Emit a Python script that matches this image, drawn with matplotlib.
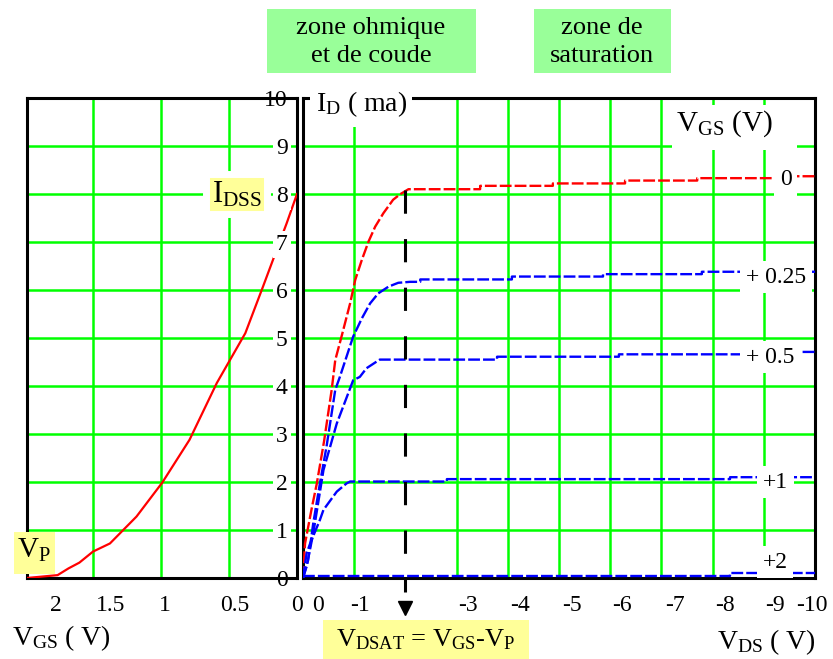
import matplotlib
matplotlib.use('Agg')
import matplotlib.pyplot as plt
from matplotlib.patches import Rectangle

plt.rcParams['font.family'] = 'Liberation Serif'
plt.rcParams['mathtext.fontset'] = 'custom'
plt.rcParams['mathtext.rm'] = 'Liberation Serif'
plt.rcParams['mathtext.it'] = 'Liberation Serif:italic'

# transfer characteristic ID(VGS), left panel
vgs_tr = [1.985, 1.76, 1.68, 1.60, 1.50, 1.375, 1.18, 0.99, 0.79, 0.59, 0.38, 0.25, 0.15, 0.076, 0.0]
id_tr = [0.0, 0.06, 0.20, 0.32, 0.55, 0.72, 1.28, 1.99, 2.88, 4.06, 5.10, 6.07, 6.83, 7.39, 8.0]

# output characteristics ID(VDS), right panel
vds_0 = [0, -0.04, -0.17, -0.27, -0.41, -0.56, -0.63, -0.76, -0.92, -1.02, -1.15, -1.28, -1.41, -1.57,
         -1.76, -1.89, -2.06, -3.46, -3.46, -4.88, -4.88, -6.29, -6.29, -7.70, -7.70, -9.3, -9.3, -10]
id_0 = [0, 0.72, 1.45, 1.97, 2.84, 3.92, 4.54, 5.06, 5.72, 6.21, 6.63, 7.01, 7.32, 7.60,
        7.88, 7.99, 8.10, 8.10, 8.17, 8.17, 8.22, 8.22, 8.28, 8.28, 8.33, 8.33, 8.37, 8.37]

vds_025 = [0, -0.10, -0.20, -0.33, -0.46, -0.63, -0.72, -0.85, -0.98, -1.15, -1.31, -1.47, -1.67, -1.86,
           -2.09, -2.29, -2.29, -4.08, -4.08, -5.86, -5.86, -7.79, -7.79, -10]
id_025 = [0, 0.37, 1.14, 1.97, 2.74, 3.92, 4.19, 4.61, 5.03, 5.41, 5.72, 5.93, 6.07, 6.15,
          6.17, 6.17, 6.22, 6.22, 6.28, 6.28, 6.33, 6.33, 6.38, 6.38]

vds_05 = [0, -0.07, -0.20, -0.40, -0.66, -0.98, -1.11, -1.24, -1.44, -1.50, -3.79, -3.79, -6.17, -6.17,
          -9.6, -9.6, -10]
id_05 = [0, 0.24, 0.93, 2.25, 3.22, 4.12, 4.19, 4.37, 4.51, 4.55, 4.55, 4.61, 4.61, 4.66,
         4.66, 4.71, 4.71]

vds_1 = [0, -0.07, -0.14, -0.33, -0.40, -0.66, -0.85, -0.92, -2.81, -2.81, -8.34, -8.34, -10]
id_1 = [0, 0.51, 0.72, 1.21, 1.42, 1.80, 1.97, 2.01, 2.01, 2.06, 2.06, 2.10, 2.10]

vds_2 = [0, -8.34, -8.34, -10]
id_2 = [0.04, 0.04, 0.11, 0.11]

curve_labels = ['0', '+ 0.25', '+ 0.5', '+1', '+2']
curve_colors = ['red', 'blue', 'blue', 'blue', 'blue']

vgs_ticklabels = ['2', '1.5', '1', '0.5', '0']
vds_ticklabels = ['0', '-1', '-3', '-4', '-5', '-6', '-7', '-8', '-9', '-10']
id_ticklabels = [str(i) for i in range(11)]

vdsat = -2.0
idss = 8.0

W, H = 833, 659
fig = plt.figure(figsize=(8.33, 6.59), dpi=100)


def px_box(x0, y0, x1, y1):
    return [x0 / W, 1 - y1 / H, (x1 - x0) / W, (y1 - y0) / H]


def fig_rect(x0, y0, x1, y1, fc, ec='none', lw=0):
    r = Rectangle((x0 / W, 1 - y1 / H), (x1 - x0) / W, (y1 - y0) / H,
                  transform=fig.transFigure, facecolor=fc, edgecolor=ec, linewidth=lw)
    fig.add_artist(r)


def fig_text(x, y, s, size, ha='center'):
    fig.text(x / W, 1 - y / H, s, fontsize=size, ha=ha, va='center', linespacing=1.3)


GREEN = '#00ff00'
grid_kw = dict(color=GREEN, linewidth=1.8)

# ---- left panel
ax_l = fig.add_axes(px_box(27, 98, 297, 578))
ax_l.plot(vgs_tr, id_tr, color='red', lw=1.6, zorder=3)
ax_l.set_xlim(1.985, 0)
ax_l.set_ylim(0, 10)
ax_l.set_xticks([1.5, 1.0, 0.5], minor=True)
ax_l.set_xticks([1.77, 1.37, 0.97, 0.46, 0.0], vgs_ticklabels)
ax_l.set_yticks(range(11), [])
ax_l.xaxis.grid(True, which='minor', **grid_kw)
ax_l.yaxis.grid(True, which='major', **grid_kw)
ax_l.tick_params(which='both', length=0)
ax_l.tick_params(axis='x', labelsize=17, pad=12)
for sp in ax_l.spines.values():
    sp.set_linewidth(2.2)

# ---- right panel
ax_r = fig.add_axes(px_box(303, 98, 815, 578))
ax_r.set_xlim(0, -10)
ax_r.set_ylim(0, 10)
ax_r.set_xticks([-1, -3, -4, -5, -6, -7, -8, -9], minor=True)
ax_r.set_xticks([-0.29, -1.11, -3.22, -4.24, -5.25, -6.23, -7.27, -8.24, -9.22, -9.94], vds_ticklabels)
ax_r.set_yticks(range(11), id_ticklabels)
ax_r.xaxis.grid(True, which='minor', **grid_kw)
ax_r.yaxis.grid(True, which='major', **grid_kw)
ax_r.tick_params(which='both', length=0)
ax_r.tick_params(axis='x', labelsize=17, pad=12)
ax_r.tick_params(axis='y', labelsize=17, pad=11)
for lbl in ax_r.get_yticklabels()[1:10]:
    lbl.set_bbox(dict(facecolor='white', edgecolor='none', pad=2))
for sp in ax_r.spines.values():
    sp.set_linewidth(2.2)

curves = [(vds_0, id_0), (vds_025, id_025), (vds_05, id_05), (vds_1, id_1), (vds_2, id_2)]
for (vx, iy), c in zip(curves, curve_colors):
    ax_r.plot(vx, iy, color=c, lw=1.7, linestyle=(0, (5, 1.3)), zorder=3)

# VDSAT marker line with arrow
ax_r.plot([vdsat, vdsat], [idss + 0.08, -0.3], color='black', lw=2.2,
          linestyle=(0, (7.6, 8.3)), clip_on=False, zorder=4)
ax_r.plot([vdsat], [-0.62], marker='v', color='black', markersize=10, clip_on=False, zorder=4)

# curve labels
label_pos = [(-9.43, 8.30, 'center'), (-8.65, 6.27, 'left'), (-8.65, 4.60, 'left'),
             (-8.98, 2.0, 'left'), (-8.98, 0.33, 'left')]
for (x, y, ha), s in zip(label_pos, curve_labels):
    ax_r.text(x, y, s, fontsize=17, ha=ha, va='center', zorder=5, clip_on=True,
              bbox=dict(facecolor='white', edgecolor='none', pad=4))

# ---- annotation boxes
fig_rect(267, 9, 476, 73, '#99ff99')
fig_text(371, 42, 'zone ohmique\net de coude', 19)
fig_rect(534, 9, 671, 73, '#99ff99')
fig_text(602, 42, 'zone de\nsaturation', 19)

fig_rect(310, 88, 412, 127, 'white')
fig_text(362, 104, r'$\mathrm{I_D}$ ( ma)', 20)
fig_rect(672, 105, 797, 150, 'white')
fig_text(724, 124, r'$\mathrm{V_{GS}}$ (V)', 21)

fig_rect(206, 174, 267, 214, '#ffff99', ec='white', lw=5)
fig_text(237, 195, r'$\mathrm{I_{DSS}}$', 22)
fig_rect(14, 532, 55, 574, '#ffff99')
fig_text(34, 550, r'$\mathrm{V_P}$', 21)

fig_rect(323, 620, 529, 659, '#ffff99')
fig_text(426, 640, r'$\mathrm{V_{DSAT}}$ = $\mathrm{V_{GS}}$-$\mathrm{V_P}$', 19)

fig_text(12, 638, r'$\mathrm{V_{GS}}$ ( V)', 20, ha='left')
fig_text(717, 642, r'$\mathrm{V_{DS}}$ ( V)', 20, ha='left')

fig.savefig('out.png', dpi=100)
